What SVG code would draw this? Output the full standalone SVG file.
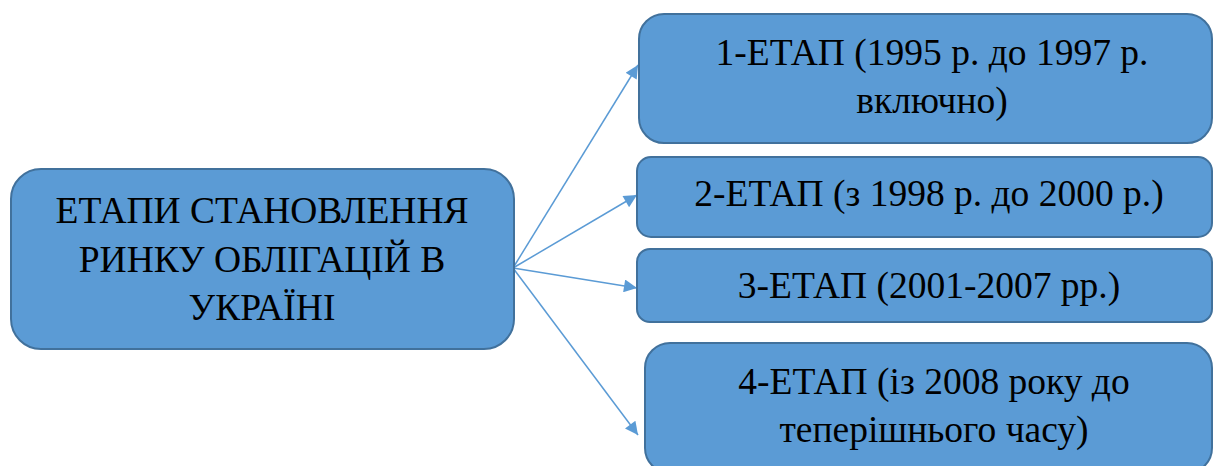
<svg xmlns="http://www.w3.org/2000/svg" width="1214" height="466" viewBox="0 0 1214 466">
<style>
.box{fill:#5b9bd5;stroke:#41719c;stroke-width:2}
.t{font-family:"Liberation Serif","Times New Roman",serif;font-size:37.5px;fill:#000;text-anchor:middle}
.c{stroke:#5b9bd5;stroke-width:1.5;fill:none;marker-end:url(#ah)}
</style>
<defs>
<marker id="ah" viewBox="0 0 10 10" refX="10" refY="5" markerUnits="userSpaceOnUse" markerWidth="16" markerHeight="13" orient="auto">
<path d="M0,0 L10,5 L0,10 Z" fill="#5b9bd5"/>
</marker>
</defs>
<rect width="1214" height="466" fill="#fff"/>
<g id="connectors">
<line class="c" x1="513" y1="268" x2="638" y2="65"/>
<line class="c" x1="513" y1="268" x2="637" y2="195"/>
<line class="c" x1="513" y1="268" x2="637" y2="288"/>
<line class="c" x1="513" y1="268" x2="638" y2="435"/>
</g>
<g id="root">
<rect class="box" x="11" y="169" width="503" height="180" rx="30"/>
<text class="t" x="262" y="223">ЕТАПИ СТАНОВЛЕННЯ</text>
<text class="t" x="262" y="272">РИНКУ ОБЛІГАЦІЙ В</text>
<text class="t" x="262" y="320">УКРАЇНІ</text>
</g>
<g id="stage1">
<rect class="box" x="639" y="14" width="573" height="129" rx="25"/>
<text class="t" x="932" y="65">1-ЕТАП (1995 р. до 1997 р.</text>
<text class="t" x="932" y="113">включно)</text>
</g>
<g id="stage2">
<rect class="box" x="637" y="157" width="575" height="80" rx="14"/>
<text class="t" x="929" y="206">2-ЕТАП (з 1998 р. до 2000 р.)</text>
</g>
<g id="stage3">
<rect class="box" x="637" y="249" width="575" height="73" rx="13"/>
<text class="t" x="929" y="298">3-ЕТАП (2001-2007 рр.)</text>
</g>
<g id="stage4">
<rect class="box" x="645" y="343" width="567" height="130" rx="25"/>
<text class="t" x="934" y="394">4-ЕТАП (із 2008 року до</text>
<text class="t" x="934" y="442">теперішнього часу)</text>
</g>
</svg>
